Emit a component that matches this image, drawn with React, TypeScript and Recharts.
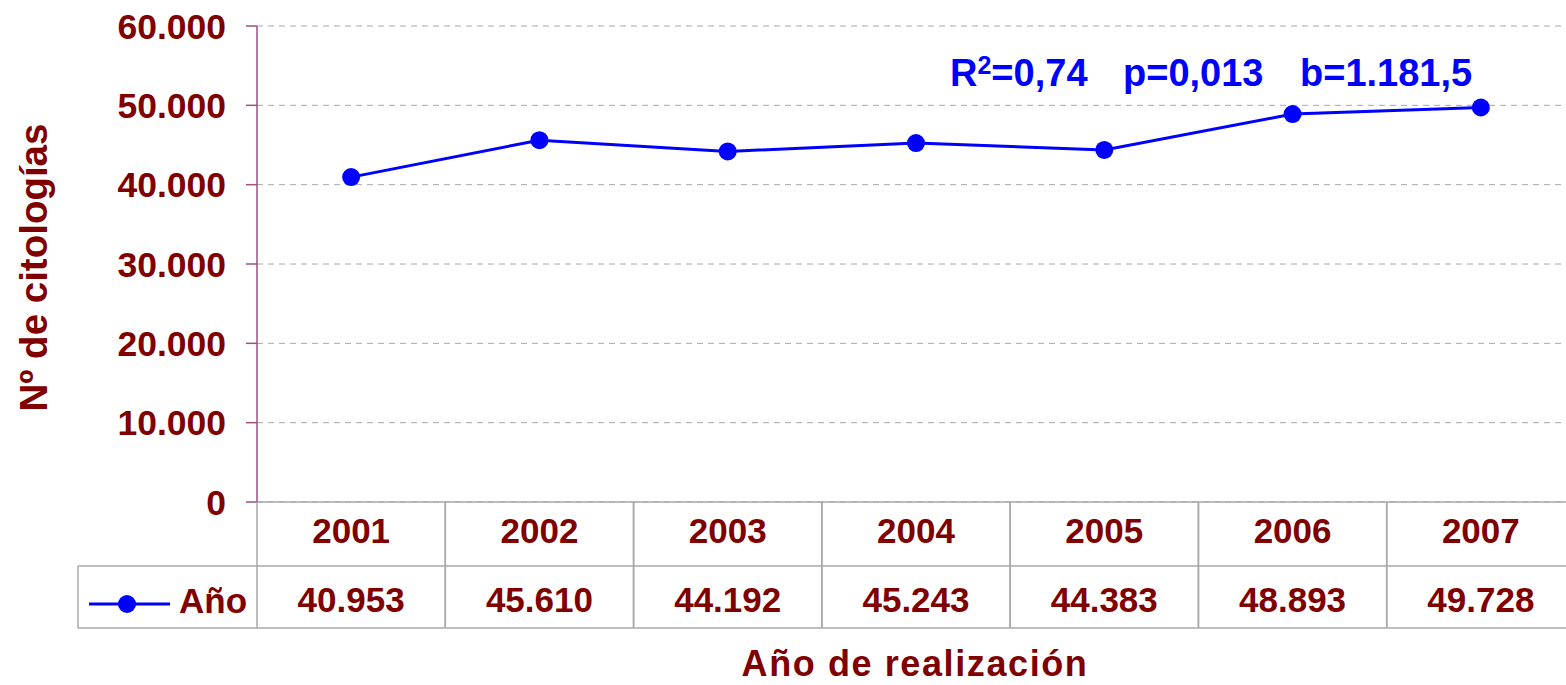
import { LineChart, Line, XAxis, YAxis, CartesianGrid } from "recharts";

const years = ["2001", "2002", "2003", "2004", "2005", "2006", "2007"];
const citologias = [40953, 45610, 44192, 45243, 44383, 48893, 49728];
const yTicks = [0, 10000, 20000, 30000, 40000, 50000, 60000];
const seriesName = "Año";

const data = years.map((year, i) => ({ year, value: citologias[i] }));

const FONT = "'Liberation Sans', Arial, sans-serif";
const RED = "#800000";
const BLUE = "#0000ff";
const GRID = "#a8a8a8";

const PLOT_LEFT = 257;
const COL_W = 188.3;
const ROW1_TOP = 502;
const ROW2_TOP = 566;
const TABLE_BOTTOM = 628;
const LEGEND_LEFT = 78;

const fmt = (n: number) => String(n).replace(/\B(?=(\d{3})+(?!\d))/g, ".");

const TableTick = (props: any) => {
    const { x, payload, index } = props;
    const left = x - COL_W / 2;
    const right = x + COL_W / 2;
    return (
        <g>
            <line x1={left} y1={ROW1_TOP} x2={left} y2={TABLE_BOTTOM} stroke={GRID} strokeWidth={1.5} />
            <line x1={right} y1={ROW1_TOP} x2={right} y2={TABLE_BOTTOM} stroke={GRID} strokeWidth={1.5} />
            <line x1={left} y1={ROW2_TOP} x2={right} y2={ROW2_TOP} stroke={GRID} strokeWidth={1.5} />
            <line x1={left} y1={TABLE_BOTTOM} x2={right} y2={TABLE_BOTTOM} stroke={GRID} strokeWidth={1.5} />
            <text x={x} y={543} textAnchor="middle" fill={RED} fontSize={35} fontWeight="bold" fontFamily={FONT}>
                {payload.value}
            </text>
            <text x={x} y={612} textAnchor="middle" fill={RED} fontSize={35} fontWeight="bold" fontFamily={FONT}>
                {fmt(citologias[index])}
            </text>
            {index === 0 && (
                <g>
                    <line x1={LEGEND_LEFT} y1={ROW2_TOP} x2={left} y2={ROW2_TOP} stroke={GRID} strokeWidth={1.5} />
                    <line x1={LEGEND_LEFT} y1={TABLE_BOTTOM} x2={left} y2={TABLE_BOTTOM} stroke={GRID} strokeWidth={1.5} />
                    <line x1={LEGEND_LEFT} y1={ROW2_TOP} x2={LEGEND_LEFT} y2={TABLE_BOTTOM} stroke={GRID} strokeWidth={1.5} />
                    <line x1={89} y1={604} x2={170} y2={604} stroke={BLUE} strokeWidth={3} />
                    <circle cx={127} cy={604} r={9} fill={BLUE} />
                    <text x={179} y={613} fill={RED} fontSize={35} fontWeight="bold" fontFamily={FONT}>
                        {seriesName}
                    </text>
                </g>
            )}
        </g>
    );
};

const App = () => {
    return (
        <div style={{ position: "absolute", left: 0, top: 0, width: 1566, height: 685, overflow: "hidden", background: "#fff" }}>
            <LineChart width={1576} height={685} data={data} margin={{ top: 26, right: 1, bottom: 57, left: 0 }}>
                <CartesianGrid vertical={false} stroke={GRID} strokeDasharray="6 5" />
                <XAxis
                    dataKey="year"
                    height={126}
                    padding={{ left: COL_W / 2, right: COL_W / 2 }}
                    axisLine={{ stroke: GRID, strokeWidth: 1.5 }}
                    tickLine={false}
                    tick={<TableTick />}
                    interval={0}
                />
                <YAxis
                    width={PLOT_LEFT}
                    domain={[0, 60000]}
                    ticks={yTicks}
                    tickFormatter={fmt}
                    axisLine={{ stroke: "#9e4f7e", strokeWidth: 1.5 }}
                    tickLine={{ stroke: "#9e4f7e", strokeWidth: 1.5 }}
                    tickSize={11}
                    tickMargin={20}
                    tick={{ fill: RED, fontSize: 35.5, fontWeight: "bold", fontFamily: FONT }}
                />
                <Line
                    dataKey="value"
                    name={seriesName}
                    stroke={BLUE}
                    strokeWidth={3}
                    dot={{ r: 9, fill: BLUE, stroke: BLUE, strokeWidth: 0 }}
                    activeDot={false}
                    isAnimationActive={false}
                />
            </LineChart>
            <svg width={1566} height={685} style={{ position: "absolute", left: 0, top: 0, pointerEvents: "none" }}>
                <text
                    x={47}
                    y={267.5}
                    transform="rotate(-90, 47, 267.5)"
                    textAnchor="middle"
                    fill={RED}
                    fontSize={38.5}
                    fontWeight="bold"
                    fontFamily={FONT}
                >
                    Nº de citologías
                </text>
                <text x={915} y={676} textAnchor="middle" fill={RED} fontSize={36} fontWeight="bold" fontFamily={FONT} letterSpacing={1.6}>
                    Año de realización
                </text>
                <g fill={BLUE} fontWeight="bold" fontFamily={FONT} fontSize={38}>
                    <text x={950} y={86}>
                        R<tspan fontSize={25} dy={-12}>2</tspan>
                        <tspan dy={12}>=0,74</tspan>
                    </text>
                    <text x={1123} y={86}>p=0,013</text>
                    <text x={1300} y={86}>b=1.181,5</text>
                </g>
            </svg>
        </div>
    );
};

export default App;
